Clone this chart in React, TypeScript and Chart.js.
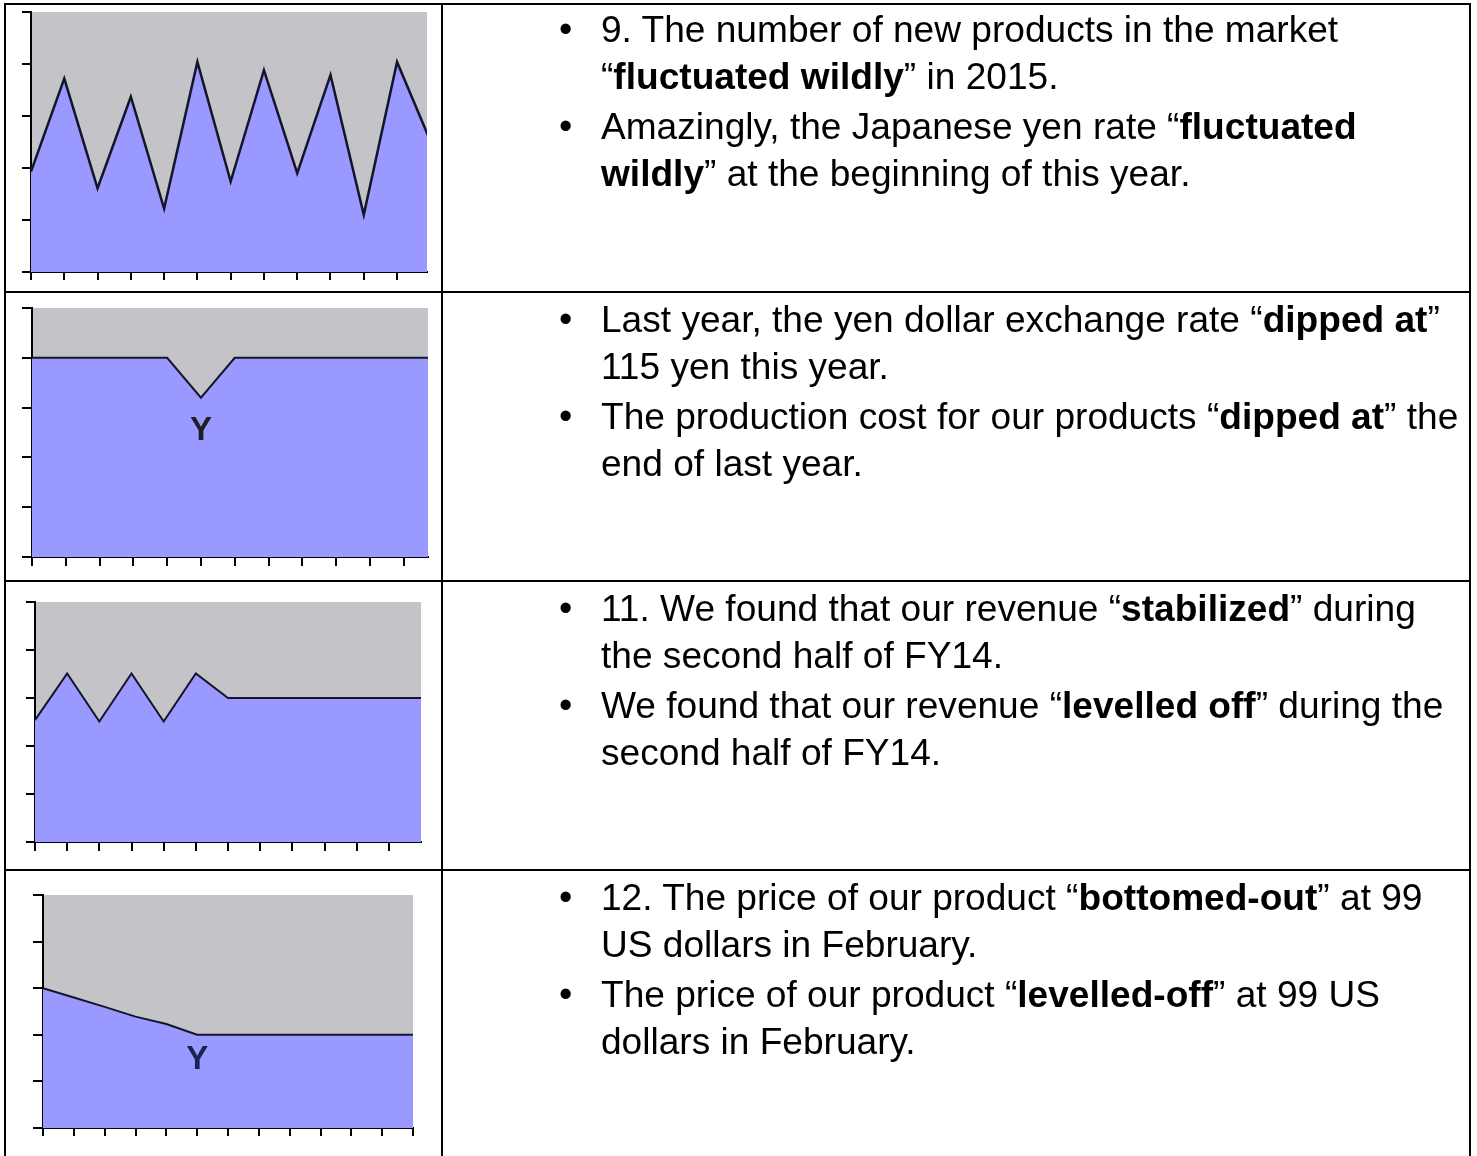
import React, { useEffect, useRef } from "react";
import { Chart, registerables } from "chart.js";

Chart.register(...registerables);

// ---- data ----
const fluctuatedValues = [1.93, 3.72, 1.61, 3.37, 1.22, 4.04, 1.74, 3.88, 1.9, 3.79, 1.1, 4.04, 2.52];
const dippedValues = [4, 4, 4, 4, 4, 3.2, 4, 4, 4, 4, 4, 4, 4];
const stabilizedValues = [2.54, 3.51, 2.51, 3.51, 2.51, 3.51, 3.0, 3, 3, 3, 3, 3, 3];
const bottomedValues = [3.0, 2.8, 2.6, 2.39, 2.23, 2.0, 2, 2, 2, 2, 2, 2, 2];
const yTickValues = [0, 1, 2, 3, 4, 5];
const xTicksTwelve = [0, 1, 2, 3, 4, 5, 6, 7, 8, 9, 10, 11];
const xTicksThirteen = [0, 1, 2, 3, 4, 5, 6, 7, 8, 9, 10, 11, 12];
const xMaxes = [11.9, 11.72, 12, 12];
const labelText = "Y";
const dipLabel = { x: 5, y: 2.59 };
const bottomLabel = { x: 5, y: 1.53 };

const row1Bullets = [
  ["9. The number of new products in the market", "“**fluctuated wildly**” in 2015."],
  ["Amazingly, the Japanese yen rate “**fluctuated**", "**wildly**” at the beginning of this year."],
];
const row2Bullets = [
  ["Last year, the yen dollar exchange rate “**dipped at**”", "115 yen this year."],
  ["The production cost for our products “**dipped at**” the", "end of last year."],
];
const row3Bullets = [
  ["11. We found that our revenue “**stabilized**” during", "the second half of FY14."],
  ["We found that our revenue “**levelled off**” during the", "second half of FY14."],
];
const row4Bullets = [
  ["12. The price of our product “**bottomed-out**” at 99", "US dollars in February."],
  ["The price of our product “**levelled-off**” at 99 US", "dollars in February."],
];

// ---- layout ----
const ROW_TOPS = [3, 291, 580, 869];
const PAGE_W = 1477;
const PAGE_H = 1156;
const FONT = '"Liberation Sans", Arial, Helvetica, sans-serif';
const TEXT_SIZE = 37.1;

type Box = { left: number; top: number; width: number; height: number };
type Pad = { left: number; top: number; right: number; bottom: number };

function AreaChart(props: {
  values: number[];
  xMax: number;
  xTicks: number[];
  box: Box;
  padding: Pad;
  yTickLen: number;
  xTickLen: number;
  lineWidth: number;
  label?: { x: number; y: number; color: string };
}) {
  const canvasRef = useRef<HTMLCanvasElement | null>(null);
  const labelRef = useRef<HTMLDivElement | null>(null);
  const { values, xMax, xTicks, box, padding, yTickLen, xTickLen, lineWidth, label } = props;

  useEffect(() => {
    const canvas = canvasRef.current;
    if (!canvas) return;
    const bgPlugin = {
      id: "plotBg",
      beforeDraw(chart: any) {
        const { ctx, chartArea } = chart;
        ctx.save();
        ctx.fillStyle = "#C4C3C7";
        ctx.fillRect(chartArea.left, chartArea.top, chartArea.right - chartArea.left, chartArea.bottom - chartArea.top);
        ctx.restore();
      },
    };
    const labelPlugin = {
      id: "yLabelPos",
      afterDraw(chart: any) {
        const el = labelRef.current;
        if (!el || !label) return;
        el.style.left = chart.scales.x.getPixelForValue(label.x) + "px";
        el.style.top = chart.scales.y.getPixelForValue(label.y) + "px";
      },
    };
    const axisCommon = (tickLen: number) => ({
      ticks: { display: false },
      grid: {
        display: true,
        drawOnChartArea: false,
        drawTicks: true,
        tickLength: tickLen,
        color: "#000",
        lineWidth: 2,
      },
      border: { display: true, color: "#000", width: 2 },
    });
    const chart = new Chart(canvas, {
      type: "line",
      data: {
        datasets: [
          {
            data: values.map((v, i) => ({ x: i, y: v })),
            borderColor: "#14142a",
            borderWidth: lineWidth,
            backgroundColor: "#9999FF",
            fill: "origin",
            pointRadius: 0,
            tension: 0,
          },
        ],
      },
      options: {
        animation: false,
        responsive: false,
        events: [],
        layout: { padding },
        plugins: { legend: { display: false }, tooltip: { enabled: false } },
        scales: {
          x: {
            type: "linear",
            min: 0,
            max: xMax,
            afterBuildTicks: (s: any) => {
              s.ticks = xTicks.map((v) => ({ value: v }));
            },
            ...axisCommon(xTickLen),
          },
          y: {
            type: "linear",
            min: 0,
            max: 5,
            afterBuildTicks: (s: any) => {
              s.ticks = yTickValues.map((v) => ({ value: v }));
            },
            ...axisCommon(yTickLen),
          },
        },
      } as any,
      plugins: [bgPlugin, labelPlugin],
    });
    return () => chart.destroy();
  }, []);

  return (
    <div style={{ position: "absolute", left: box.left, top: box.top, width: box.width, height: box.height }}>
      <canvas ref={canvasRef} width={box.width} height={box.height} style={{ display: "block" }} />
      {label ? (
        <div
          ref={labelRef}
          style={{
            position: "absolute",
            transform: "translate(-50%, -50%)",
            fontFamily: FONT,
            fontSize: 33,
            fontWeight: "bold",
            lineHeight: "33px",
            color: label.color,
            left: 0,
            top: 0,
          }}
        >
          {labelText}
        </div>
      ) : null}
    </div>
  );
}

function RichLine({ text }: { text: string }) {
  const parts = text.split("**");
  return (
    <div style={{ height: 47, lineHeight: "47px", whiteSpace: "nowrap" }}>
      {parts.map((p, i) => (i % 2 === 1 ? <b key={i}>{p}</b> : <span key={i}>{p}</span>))}
    </div>
  );
}

function TextCell({ top, bullets }: { top: number; bullets: string[][] }) {
  return (
    <div style={{ position: "absolute", left: 0, top, width: PAGE_W }}>
      {bullets.map((lines, bi) => (
        <div key={bi} style={{ position: "relative", marginTop: bi === 0 ? 0 : 3 }}>
          <span
            style={{
              position: "absolute",
              left: 559,
              top: 0,
              lineHeight: "47px",
              fontFamily: FONT,
              fontSize: 38,
            }}
          >
            •
          </span>
          <div style={{ marginLeft: 601, fontFamily: FONT, fontSize: TEXT_SIZE, color: "#000" }}>
            {lines.map((l, li) => (
              <RichLine key={li} text={l} />
            ))}
          </div>
        </div>
      ))}
    </div>
  );
}

export default function App() {
  const line = (style: React.CSSProperties, k: string) => (
    <div key={k} style={{ position: "absolute", background: "#000", ...style }} />
  );
  const cellH = [286, 287, 287, 285];
  const cellTop = ROW_TOPS.map((t) => t + 2);
  return (
    <div
      style={{
        position: "absolute",
        left: 0,
        top: 0,
        width: PAGE_W,
        height: PAGE_H,
        overflow: "hidden",
        background: "#fff",
        fontFamily: FONT,
      }}
    >
      <AreaChart
        values={fluctuatedValues}
        xMax={xMaxes[0]}
        xTicks={xTicksTwelve}
        box={{ left: 6, top: cellTop[0], width: 435, height: cellH[0] }}
        padding={{ left: 16, top: 7, right: 14, bottom: 11 }}
        yTickLen={9}
        xTickLen={8}
        lineWidth={2.5}
      />
      <AreaChart
        values={dippedValues}
        xMax={xMaxes[1]}
        xTicks={xTicksTwelve}
        box={{ left: 6, top: cellTop[1], width: 435, height: cellH[1] }}
        padding={{ left: 16, top: 15, right: 13, bottom: 14 }}
        yTickLen={10}
        xTickLen={9}
        lineWidth={2}
        label={{ ...dipLabel, color: "#1e1e24" }}
      />
      <AreaChart
        values={stabilizedValues}
        xMax={xMaxes[2]}
        xTicks={xTicksTwelve}
        box={{ left: 6, top: cellTop[2], width: 435, height: cellH[2] }}
        padding={{ left: 20, top: 20, right: 20, bottom: 18 }}
        yTickLen={9}
        xTickLen={9}
        lineWidth={2}
      />
      <AreaChart
        values={bottomedValues}
        xMax={xMaxes[3]}
        xTicks={xTicksThirteen}
        box={{ left: 6, top: cellTop[3], width: 435, height: cellH[3] }}
        padding={{ left: 27, top: 24, right: 28, bottom: 20 }}
        yTickLen={10}
        xTickLen={8}
        lineWidth={2}
        label={{ ...bottomLabel, color: "#1b2350" }}
      />

      <TextCell top={ROW_TOPS[0] + 3} bullets={row1Bullets} />
      <TextCell top={ROW_TOPS[1] + 5} bullets={row2Bullets} />
      <TextCell top={ROW_TOPS[2] + 5} bullets={row3Bullets} />
      <TextCell top={ROW_TOPS[3] + 5} bullets={row4Bullets} />

      {line({ left: 4, top: 3, width: 1467, height: 2 }, "t")}
      {ROW_TOPS.slice(1).map((t, i) => line({ left: 4, top: t, width: 1467, height: 2 }, "r" + i))}
      {line({ left: 4, top: 3, width: 2, height: PAGE_H }, "l")}
      {line({ left: 441, top: 3, width: 2, height: PAGE_H }, "m")}
      {line({ left: 1469, top: 3, width: 2, height: PAGE_H }, "rr")}
    </div>
  );
}
